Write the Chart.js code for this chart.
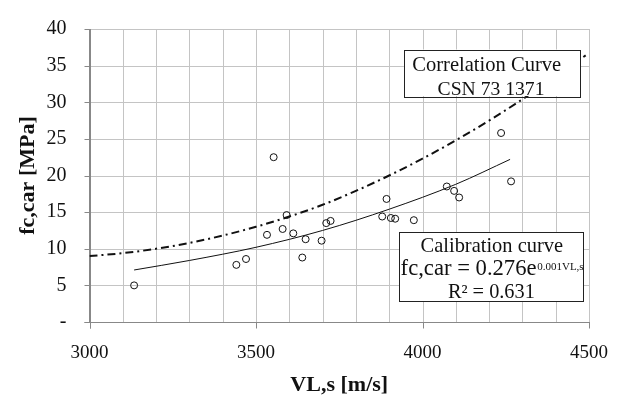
<!DOCTYPE html>
<html>
<head>
<meta charset="utf-8">
<script src="https://cdn.jsdelivr.net/npm/chart.js@4/dist/chart.umd.min.js"></script>
<style>
  html, body { margin: 0; padding: 0; background: #fff; }
  #wrap { width: 622px; height: 396px; }
</style>
</head>
<body>
<div id="wrap"><canvas id="grafico"></canvas></div>
<script>
// measured points
const velocidad = [3134, 3441, 3470, 3533, 3553, 3580, 3592, 3612, 3639, 3649, 3697, 3711, 3724,
                   3879, 3892, 3905, 3918, 3974, 4073, 4095, 4110, 4236, 4266];
const resistencia = [5.0, 7.8, 8.6, 11.9, 22.5, 12.7, 14.6, 12.1, 8.8, 11.3, 11.1, 13.5, 13.8,
                     14.4, 16.8, 14.2, 14.1, 13.9, 18.5, 17.9, 17.0, 25.8, 19.2];

// calibration curve
const calX = [3134, 3300, 3500, 3700, 3900, 4100, 4263];
const calY = [7.1, 8.4, 10.2, 12.5, 15.4, 18.8, 22.2];

// correlation curve CSN 73 1371
const corX = [3000, 3100, 3200, 3300, 3400, 3500, 3600, 3700, 3800, 3900, 4000, 4100, 4200, 4300, 4400, 4490];
const corY = [9.0, 9.4, 10.0, 10.8, 11.8, 13.0, 14.4, 16.0, 17.9, 20.0, 22.3, 24.8, 27.5, 30.4, 33.5, 36.4];

const xTicks = [3000, 3500, 4000, 4500];
const yTicks = [0, 5, 10, 15, 20, 25, 30, 35, 40];

const serif = '"Liberation Serif", "Times New Roman", serif';

function aPuntos(xs, ys) {
    return xs.map((x, i) => ({ x: x, y: ys[i] }));
}

function dibujarCaja(ctx, x1, y1, x2, y2) {
    ctx.save();
    ctx.fillStyle = '#fff';
    ctx.fillRect(x1, y1, x2 - x1, y2 - y1);
    ctx.strokeStyle = '#222';
    ctx.lineWidth = 1;
    ctx.strokeRect(Math.round(x1) + 0.5, Math.round(y1) + 0.5, Math.round(x2 - x1), Math.round(y2 - y1));
    ctx.restore();
}

// text fitted to a target width
function texto(ctx, str, x, y, ancho) {
    ctx.font = '20px ' + serif;
    const w = ctx.measureText(str).width;
    const size = 20 * ancho / w;
    ctx.font = size.toFixed(2) + 'px ' + serif;
    ctx.fillText(str, x, y);
}

// grid lines and tick marks from the scales' own ticks
const rejilla = {
    id: 'rejilla',
    beforeDatasetsDraw(chart) {
        const ctx = chart.ctx;
        const a = chart.chartArea;
        const xs = chart.scales.x, ys = chart.scales.y;
        ctx.save();
        ctx.lineWidth = 1;
        ctx.strokeStyle = '#c4c4c4';
        ctx.beginPath();
        xs.ticks.forEach(t => {
            if (t.value === xs.min) return;
            const px = Math.round(xs.getPixelForValue(t.value)) + 0.5;
            ctx.moveTo(px, a.top);
            ctx.lineTo(px, a.bottom);
        });
        ys.ticks.forEach(t => {
            if (t.value === ys.min) return;
            const py = Math.round(ys.getPixelForValue(t.value)) + 0.5;
            ctx.moveTo(a.left, py);
            ctx.lineTo(a.right, py);
        });
        ctx.stroke();

        const bx = Math.round(a.left) + 0.5, by = Math.round(a.bottom) + 0.5;
        ctx.strokeStyle = '#888';
        ctx.beginPath();
        ctx.moveTo(bx, a.top);
        ctx.lineTo(bx, by + 6);
        ctx.moveTo(bx - 6, by);
        ctx.lineTo(Math.round(a.right) + 0.5, by);
        xTicks.forEach(v => {
            const px = Math.round(xs.getPixelForValue(v)) + 0.5;
            ctx.moveTo(px, by);
            ctx.lineTo(px, by + 6);
        });
        yTicks.forEach(v => {
            const py = Math.round(ys.getPixelForValue(v)) + 0.5;
            ctx.moveTo(bx - 6, py);
            ctx.lineTo(bx, py);
        });
        ctx.stroke();
        ctx.restore();
    }
};

const cajas = {
    id: 'cajas',
    afterDraw(chart) {
        const ctx = chart.ctx;
        const xs = chart.scales.x, ys = chart.scales.y;

        // Correlation Curve box
        let x1 = xs.getPixelForValue(3944), x2 = xs.getPixelForValue(4473);
        let y1 = ys.getPixelForValue(37.2), y2 = ys.getPixelForValue(30.85);
        dibujarCaja(ctx, x1, y1, x2, y2);
        ctx.save();
        ctx.fillStyle = '#111';
        ctx.textAlign = 'left';
        ctx.textBaseline = 'alphabetic';
        texto(ctx, 'Correlation Curve', x1 + 8.4, y1 + 21.4, 149);
        texto(ctx, 'CSN 73 1371', x1 + 33.7, y1 + 45.7, 107);
        ctx.restore();

        // Calibration curve box
        x1 = xs.getPixelForValue(3930); x2 = xs.getPixelForValue(4484);
        y1 = ys.getPixelForValue(12.3); y2 = ys.getPixelForValue(2.86);
        dibujarCaja(ctx, x1, y1, x2, y2);
        ctx.save();
        ctx.fillStyle = '#111';
        ctx.textAlign = 'left';
        ctx.textBaseline = 'alphabetic';
        texto(ctx, 'Calibration curve', x1 + 21.4, y1 + 20, 142.6);
        texto(ctx, 'fc,car = 0.276e', x1 + 1.4, y1 + 43.4, 136);
        ctx.font = '11px ' + serif;
        ctx.fillText('0.001VL,s', x1 + 138, y1 + 38.4);
        texto(ctx, 'R\u00B2 = 0.631', x1 + 48.7, y1 + 65.7, 87);
        ctx.restore();
    }
};

new Chart(document.getElementById('grafico'), {
    type: 'scatter',
    data: {
        datasets: [
            {
                label: 'Correlation Curve CSN 73 1371',
                data: aPuntos(corX, corY),
                showLine: true,
                borderColor: '#111',
                borderWidth: 2,
                borderDash: [8, 4, 2, 4],
                pointRadius: 0,
                cubicInterpolationMode: 'monotone',
                order: 3
            },
            {
                label: 'Calibration curve',
                data: aPuntos(calX, calY),
                showLine: true,
                borderColor: '#111',
                borderWidth: 1,
                pointRadius: 0,
                cubicInterpolationMode: 'monotone',
                order: 2
            },
            {
                label: 'fc,car',
                data: aPuntos(velocidad, resistencia),
                pointRadius: 3.5,
                pointBorderWidth: 1,
                pointBorderColor: '#111',
                pointBackgroundColor: 'rgba(255,255,255,0)',
                order: 1
            }
        ]
    },
    options: {
        responsive: true,
        maintainAspectRatio: false,
        animation: false,
        layout: { padding: { top: 18, right: 33, left: 0, bottom: 0 } },
        plugins: {
            legend: { display: false },
            tooltip: { enabled: false }
        },
        scales: {
            x: {
                type: 'linear',
                min: 3000,
                max: 4500,
                afterFit: (s) => { s.height = 74; },
                ticks: {
                    stepSize: 100,
                    autoSkip: false,
                    maxRotation: 0,
                    padding: 14,
                    color: '#111',
                    font: { family: serif, size: 19 },
                    callback: (v) => xTicks.includes(v) ? String(v) : ''
                },
                grid: { display: false, tickLength: 6 },
                border: { color: '#888', width: 1 },
                title: {
                    display: true,
                    text: 'VL,s [m/s]',
                    color: '#111',
                    font: { family: serif, size: 22, weight: 'bold', lineHeight: 1 },
                    padding: { top: 0, bottom: 0 }
                }
            },
            y: {
                type: 'linear',
                min: 0,
                max: 40,
                afterFit: (s) => { s.width = 89.5; },
                ticks: {
                    stepSize: 5,
                    padding: 17,
                    color: '#111',
                    font: { family: serif, size: 20 },
                    callback: (v) => yTicks.includes(v) ? (v === 0 ? '-' : String(v)) : ''
                },
                grid: { display: false, tickLength: 6 },
                border: { color: '#888', width: 1 },
                title: {
                    display: true,
                    text: 'fc,car [MPa]',
                    color: '#111',
                    font: { family: serif, size: 22, weight: 'bold' },
                    padding: { top: 15, bottom: 0 }
                }
            }
        }
    },
    plugins: [rejilla, cajas]
});
</script>
</body>
</html>
